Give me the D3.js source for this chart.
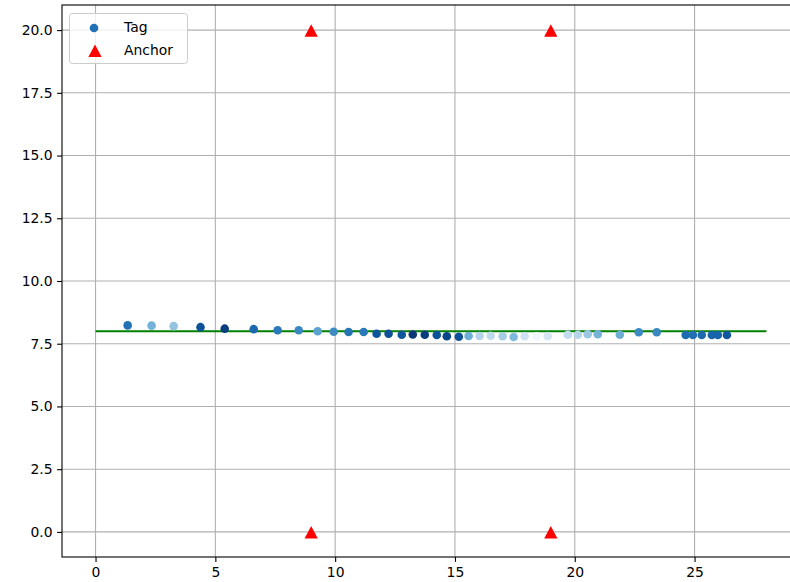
<!DOCTYPE html>
<html><head><meta charset="utf-8">
<script src="https://cdn.jsdelivr.net/npm/d3@7"></script>
<style>body{margin:0;background:#fff;} svg{display:block;}</style>
</head><body>
<svg id="chart" width="790" height="582"></svg>
<script>
// ---- data ----
const tagX = [1.34,2.34,3.26,4.38,5.39,6.6,7.6,8.48,9.27,9.94,10.56,11.19,11.73,12.23,12.78,13.24,13.74,14.24,14.66,15.16,15.57,16.03,16.49,16.99,17.45,17.91,18.41,18.87,19.71,20.13,20.54,20.96,21.88,22.67,23.42,24.63,24.93,25.3,25.72,25.97,26.35];
const tagY = [8.23,8.22,8.2,8.16,8.1,8.08,8.04,8.04,8.0,7.98,7.97,7.97,7.9,7.9,7.86,7.87,7.86,7.85,7.8,7.78,7.81,7.81,7.82,7.8,7.77,7.8,7.8,7.8,7.86,7.86,7.88,7.88,7.86,7.96,7.96,7.85,7.85,7.85,7.85,7.85,7.85];
const tagShade = [0.75,0.48,0.4,0.87,0.95,0.78,0.72,0.66,0.55,0.65,0.74,0.72,0.86,0.88,0.86,0.97,0.95,0.87,0.92,0.87,0.5,0.3,0.27,0.35,0.45,0.2,0.03,0.17,0.25,0.3,0.38,0.48,0.5,0.65,0.66,0.77,0.76,0.78,0.8,0.8,0.85];
const anchorX = [9,9,19,19];
const anchorY = [0,20,0,20];
const refLineX = [0,28];
const refLineY = [8,8];
const xTicks = [0,5,10,15,20,25];
const yTicks = [0,2.5,5,7.5,10,12.5,15,17.5,20];
const legendLabels = ["Tag","Anchor"];

// ---- layout ----
const svg = d3.select("#chart");
const L = 62, T = 5, R = 800, B = 557;
const x = d3.scaleLinear().domain([-1.4, 29.4]).range([L, R]);
const y = d3.scaleLinear().domain([-1, 21]).range([B, T]);
const font = "'DejaVu Sans', sans-serif";

// grid
const g = svg.append("g");
g.selectAll(".gx").data(xTicks).join("line")
  .attr("x1", d => x(d)).attr("x2", d => x(d)).attr("y1", T).attr("y2", B)
  .attr("stroke", "#b0b0b0").attr("stroke-width", 1.1);
g.selectAll(".gy").data(yTicks).join("line")
  .attr("y1", d => y(d)).attr("y2", d => y(d)).attr("x1", L).attr("x2", R)
  .attr("stroke", "#b0b0b0").attr("stroke-width", 1.1);

// axes
const xAxis = d3.axisBottom(x).tickValues(xTicks).tickFormat(d3.format("d")).tickSize(4.9).tickPadding(4.5);
const yAxis = d3.axisLeft(y).tickValues(yTicks).tickFormat(d3.format(".1f")).tickSize(4.9).tickPadding(4.5);
const ax = svg.append("g").attr("transform", `translate(0,${B})`).call(xAxis);
const ay = svg.append("g").attr("transform", `translate(${L},0)`).call(yAxis);
[ax, ay].forEach(a => {
  a.select(".domain").remove();
  a.selectAll("text").attr("font-family", font).attr("font-size", 13.9).attr("fill", "#000");
  a.selectAll("line").attr("stroke", "#000").attr("stroke-width", 1.1);
});
ax.selectAll("text").attr("dy", "0.75em");

// ref line
const line = d3.line().x(d => x(d[0])).y(d => y(d[1]));
svg.append("path").datum(refLineX.map((v, i) => [v, refLineY[i]]))
  .attr("d", line).attr("stroke", "green").attr("stroke-width", 2.1).attr("fill", "none");

// tags
const color = d3.scaleSequential(d3.interpolateBlues).domain([0, 1]);
svg.append("g").selectAll("circle").data(tagX.map((v, i) => ({x: v, y: tagY[i], c: tagShade[i]})))
  .join("circle")
  .attr("cx", d => x(d.x)).attr("cy", d => y(d.y)).attr("r", 4.3)
  .attr("fill", d => color(d.c));

// anchors
const tri = "M0,-6.5L6.6,6L-6.6,6Z";
svg.append("g").selectAll("path").data(anchorX.map((v, i) => ({x: v, y: anchorY[i]})))
  .join("path")
  .attr("transform", d => `translate(${x(d.x)},${y(d.y) + 0.7})`)
  .attr("d", tri).attr("fill", "red");

// spines
svg.append("rect").attr("x", L).attr("y", T).attr("width", R - L).attr("height", B - T)
  .attr("fill", "none").attr("stroke", "#000").attr("stroke-width", 1.1);

// legend
const lg = svg.append("g");
lg.append("rect").attr("x", 69.5).attr("y", 13.5).attr("width", 118).attr("height", 50)
  .attr("rx", 3).attr("fill", "rgba(255,255,255,0.8)").attr("stroke", "#cccccc").attr("stroke-width", 1);
lg.append("circle").attr("cx", 94).attr("cy", 28).attr("r", 4.3).attr("fill", color(0.75));
lg.append("path").attr("transform", "translate(95,51)").attr("d", tri).attr("fill", "red");
lg.selectAll("text").data(legendLabels).join("text")
  .attr("x", 124).attr("y", (d, i) => 27 + i * 23).attr("dy", "0.35em")
  .attr("font-family", font).attr("font-size", 13.9).attr("fill", "#000").text(d => d);
</script>
</body></html>
